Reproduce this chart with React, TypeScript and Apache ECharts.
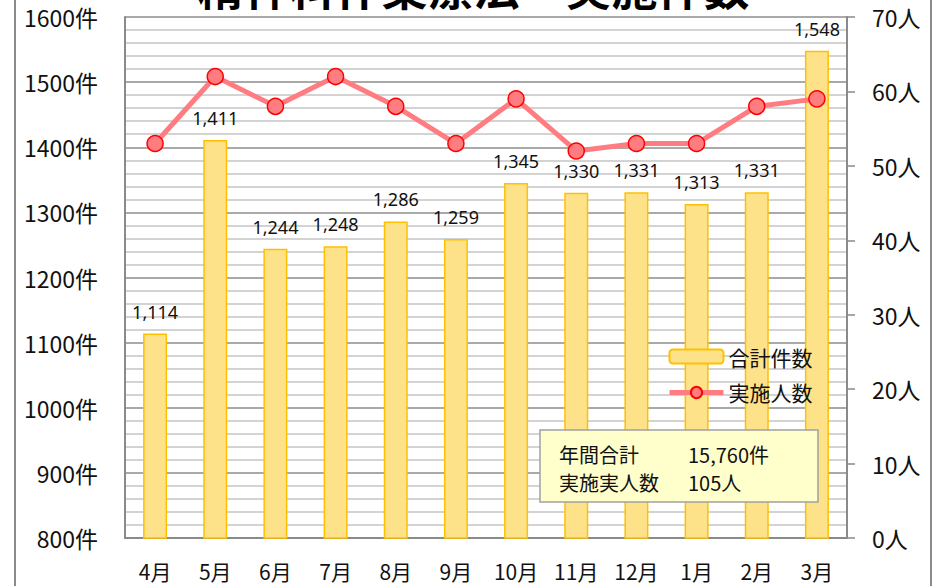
import React, { useEffect, useRef } from "react";
import * as echarts from "echarts";

const categories = ["4月", "5月", "6月", "7月", "8月", "9月", "10月", "11月", "12月", "1月", "2月", "3月"];
const totalCases = [1114, 1411, 1244, 1248, 1286, 1259, 1345, 1330, 1331, 1313, 1331, 1548];
const persons = [53, 62, 58, 62, 58, 53, 59, 52, 53, 53, 58, 59];
const title = "精神科作業療法　実施件数";
const summaryLabels = ["年間合計", "実施実人数"];
const summaryValues = ["15,760件", "105人"];

const JP = "'Noto Sans CJK JP', 'Noto Sans', sans-serif";

export default function App() {
  const ref = useRef<HTMLDivElement>(null);
  useEffect(() => {
    if (!ref.current) return;
    const chart = echarts.init(ref.current, undefined, { renderer: "svg" });
    chart.setOption({
      animation: false,
      backgroundColor: "#ffffff",
      textStyle: { fontFamily: JP },
      grid: { left: 125, right: 100, top: 17, bottom: 48, containLabel: false },
      legend: {
        orient: "vertical",
        left: 662,
        top: 341,
        itemWidth: 54,
        itemHeight: 14,
        itemGap: 15,
        textStyle: { fontSize: 21, color: "#111", fontFamily: JP },
        data: [
          { name: "合計件数" },
          { name: "実施人数", lineStyle: { width: 5, color: "#FF7C80" } },
        ],
      },
      xAxis: {
        type: "category",
        data: categories,
        axisLine: { show: true, lineStyle: { color: "#8a8a8a", width: 2 } },
        axisTick: { show: false },
        axisLabel: { interval: 0, fontSize: 21, color: "#111", margin: 22, fontFamily: JP },
      },
      yAxis: [
        {
          type: "value",
          min: 800,
          max: 1600,
          interval: 100,
          axisLine: { show: true, lineStyle: { color: "#8a8a8a", width: 2 } },
          axisTick: { show: false },
          axisLabel: { formatter: (v: number) => String(v) + "件", fontSize: 23, color: "#111", margin: 27, fontFamily: JP },
          splitLine: { show: true, lineStyle: { color: "#8c8c8c", width: 1.5 } },
          minorTick: { show: false, splitNumber: 5 },
          minorSplitLine: { show: true, lineStyle: { color: "#c4c4c4", width: 1.5 } },
        },
        {
          type: "value",
          min: 0,
          max: 70,
          interval: 10,
          position: "right",
          axisLine: { show: true, lineStyle: { color: "#8a8a8a", width: 2 } },
          axisTick: { show: true, inside: false, length: 8, lineStyle: { color: "#8a8a8a", width: 1.5 } },
          axisLabel: { formatter: (v: number) => String(v) + "人", fontSize: 23, color: "#111", margin: 25, fontFamily: JP },
          splitLine: { show: false },
        },
      ],
      series: [
        {
          name: "合計件数",
          type: "bar",
          yAxisIndex: 0,
          data: totalCases,
          barWidth: 24,
          itemStyle: { color: "#FDE28A", borderColor: "#FFC000", borderWidth: 1.5 },
          label: {
            show: true,
            position: "top",
            distance: 13,
            fontSize: 18,
            color: "#111",
            fontFamily: "'Noto Sans', sans-serif",
            formatter: (p: any) => Number(p.value).toLocaleString("en-US"),
          },
          z: 2,
        },
        {
          name: "実施人数",
          type: "line",
          yAxisIndex: 1,
          data: persons,
          symbol: "circle",
          symbolSize: 16,
          lineStyle: { color: "#FF7C80", width: 5 },
          itemStyle: { color: "#FF7C80", borderColor: "#FF0000", borderWidth: 1.5 },
          z: 5,
        },
      ],
      graphic: [
        {
          type: "text",
          left: "center",
          top: -38,
          z: 100,
          style: { text: title, fontSize: 46, fontWeight: "bold", fill: "#000", fontFamily: JP },
        },
        { type: "line", z: 100, shape: { x1: 15, y1: 0, x2: 15, y2: 586 }, style: { stroke: "#8a8a8a", lineWidth: 2 } },
        { type: "line", z: 100, shape: { x1: 931, y1: 0, x2: 931, y2: 586 }, style: { stroke: "#8a8a8a", lineWidth: 2 } },
        { type: "rect", z: 100, shape: { x: 540, y: 430, width: 278, height: 72 }, style: { fill: "#FFFFCC", stroke: "#A0A0A0", lineWidth: 1.5 } },
        { type: "text", z: 101, x: 559, y: 454, style: { text: summaryLabels[0], fontSize: 20, fill: "#111", fontFamily: JP, verticalAlign: "middle" } },
        { type: "text", z: 101, x: 688, y: 454, style: { text: summaryValues[0], fontSize: 20, fill: "#111", fontFamily: JP, verticalAlign: "middle" } },
        { type: "text", z: 101, x: 559, y: 482, style: { text: summaryLabels[1], fontSize: 20, fill: "#111", fontFamily: JP, verticalAlign: "middle" } },
        { type: "text", z: 101, x: 688, y: 482, style: { text: summaryValues[1], fontSize: 20, fill: "#111", fontFamily: JP, verticalAlign: "middle" } },
      ],
    });
    return () => chart.dispose();
  }, []);
  return <div ref={ref} style={{ width: 947, height: 586, position: "absolute", left: 0, top: 0 }} />;
}
